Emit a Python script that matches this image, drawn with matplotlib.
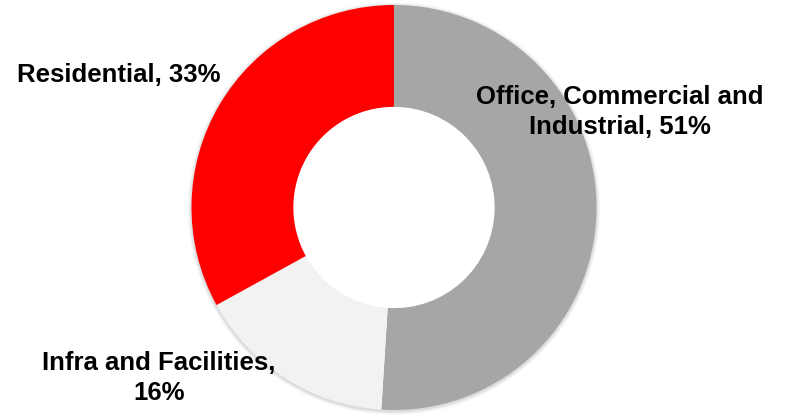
import matplotlib
matplotlib.use("Agg")

import matplotlib.pyplot as plt

# доли сегментов, по часовой стрелке от 12 часов
segments = ["Office, Commercial and\nIndustrial", "Infra and Facilities,\n", "Residential"]
shares = [51, 16, 33]
colors = ["#A6A6A6", "#F2F2F2", "#FF0000"]

plt.rcParams["font.family"] = ["Liberation Sans", "DejaVu Sans"]

fig = plt.figure(figsize=(7.89, 4.17), dpi=100)
ax = fig.add_axes([0, 0, 1, 1])

cx, cy, r = 394, 209.5, 202.5

# лёгкая тень вокруг кольца
for i, a in enumerate([0.05, 0.04, 0.03, 0.02]):
    ax.pie([1], colors=["#000000"], radius=r + 1 + i, center=(cx, cy - 1),
           wedgeprops=dict(width=2.5 + 2 * i, alpha=a, linewidth=0), frame=True)

ax.pie(shares, colors=colors, startangle=90, counterclock=False,
       radius=r, center=(cx, cy), frame=True,
       wedgeprops=dict(width=r * 0.503, linewidth=0))

ax.set_xlim(0, 789)
ax.set_ylim(0, 417)
ax.set_aspect("equal")
ax.axis("off")

lbl = dict(fontsize=18.5, fontweight="bold", ha="center", va="center",
           linespacing=1.35)
texts = [f"{s}, {v}%" if not s.endswith("\n") else f"{s}{v}%"
         for s, v in zip(segments, shares)]
ax.text(620, 417 - 112, texts[0], **lbl)
ax.text(159, 417 - 378, texts[1], **lbl)
ax.text(119, 417 - 75, texts[2], **lbl)

fig.savefig("out.png", dpi=100)
